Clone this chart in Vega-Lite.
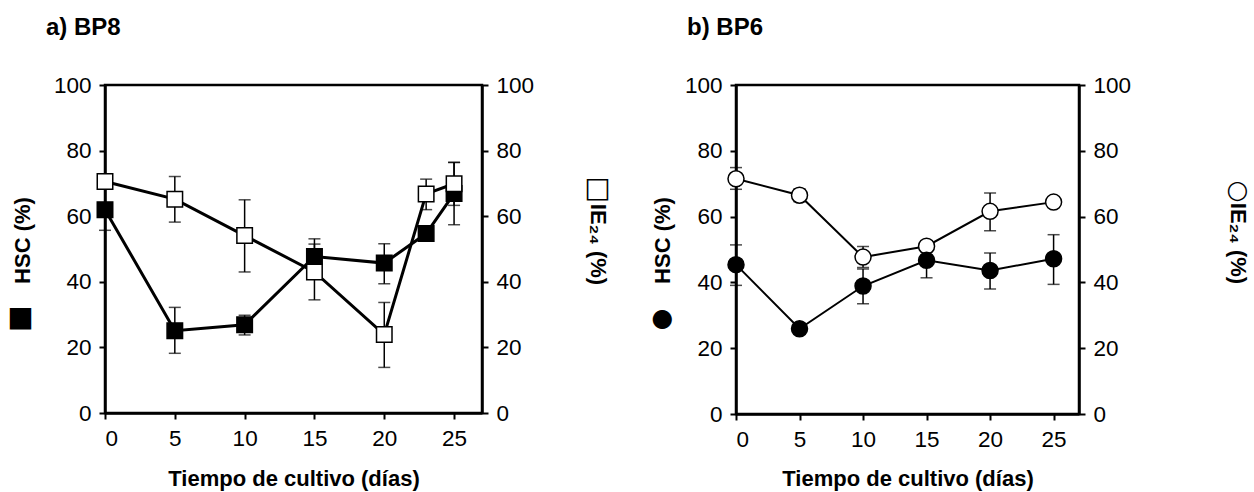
{
  "$schema": "https://vega.github.io/schema/vega-lite/v6.json",
  "padding": {"left": 5, "top": 14, "right": 2, "bottom": 2},
  "spacing": 37,
  "config": {
    "font": "Liberation Sans",
    "view": {"stroke": "black", "strokeWidth": 2.5},
    "axis": {
      "grid": false,
      "domainColor": "black",
      "domainWidth": 2.5,
      "tickColor": "black",
      "tickWidth": 2,
      "tickSize": 6,
      "labelFont": "Liberation Sans",
      "labelFontSize": 22.5,
      "labelColor": "black",
      "labelPadding": 8,
      "titleFont": "Liberation Sans",
      "titleFontSize": 22,
      "titleFontWeight": "bold",
      "titleColor": "black"
    },
    "title": {"font": "Liberation Sans", "fontSize": 24, "fontWeight": "bold", "color": "black"}
  },
  "datasets": {
    "d": [
      {"panel": "a", "series": "HSC", "day": 0, "value": 62.0, "lo": 55.7, "hi": 68.3},
      {"panel": "a", "series": "HSC", "day": 5, "value": 25.1, "lo": 18.2, "hi": 32.2},
      {"panel": "a", "series": "HSC", "day": 10, "value": 26.9, "lo": 23.8, "hi": 29.8},
      {"panel": "a", "series": "HSC", "day": 15, "value": 47.7, "lo": 42.3, "hi": 53.1},
      {"panel": "a", "series": "HSC", "day": 20, "value": 45.7, "lo": 39.4, "hi": 51.6},
      {"panel": "a", "series": "HSC", "day": 23, "value": 54.7, "lo": 53.0, "hi": 56.4},
      {"panel": "a", "series": "HSC", "day": 25, "value": 66.9, "lo": 57.4, "hi": 76.4},
      {"panel": "a", "series": "IE", "day": 0, "value": 70.6, "lo": 68.4, "hi": 72.8},
      {"panel": "a", "series": "IE", "day": 5, "value": 65.2, "lo": 58.2, "hi": 72.1},
      {"panel": "a", "series": "IE", "day": 10, "value": 54.1, "lo": 43.0, "hi": 65.0},
      {"panel": "a", "series": "IE", "day": 15, "value": 43.0, "lo": 34.5, "hi": 51.5},
      {"panel": "a", "series": "IE", "day": 20, "value": 23.9, "lo": 13.9, "hi": 33.7},
      {"panel": "a", "series": "IE", "day": 23, "value": 66.8, "lo": 62.0, "hi": 71.3},
      {"panel": "a", "series": "IE", "day": 25, "value": 69.9, "lo": 63.3, "hi": 76.4},
      {"panel": "b", "series": "IE", "day": 0, "value": 71.5, "lo": 68.3, "hi": 74.9},
      {"panel": "b", "series": "IE", "day": 5, "value": 66.5, "lo": 64.5, "hi": 68.5},
      {"panel": "b", "series": "IE", "day": 10, "value": 47.7, "lo": 44.5, "hi": 50.9},
      {"panel": "b", "series": "IE", "day": 15, "value": 51.0, "lo": 49.5, "hi": 52.5},
      {"panel": "b", "series": "IE", "day": 20, "value": 61.6, "lo": 55.7, "hi": 67.2},
      {"panel": "b", "series": "IE", "day": 25, "value": 64.4, "lo": 63.5, "hi": 65.3},
      {"panel": "b", "series": "HSC", "day": 0, "value": 45.4, "lo": 39.1, "hi": 51.4},
      {"panel": "b", "series": "HSC", "day": 5, "value": 25.9, "lo": 24.5, "hi": 27.3},
      {"panel": "b", "series": "HSC", "day": 10, "value": 38.9, "lo": 33.5, "hi": 44.1},
      {"panel": "b", "series": "HSC", "day": 15, "value": 46.7, "lo": 41.4, "hi": 52.0},
      {"panel": "b", "series": "HSC", "day": 20, "value": 43.6, "lo": 38.0, "hi": 48.9},
      {"panel": "b", "series": "HSC", "day": 25, "value": 47.2, "lo": 39.4, "hi": 54.5}
    ]
  },
  "hconcat": [
    {
      "width": 377,
      "height": 328,
      "title": {"text": "a) BP8", "anchor": "start", "frame": "group", "dx": -59, "offset": 34},
      "data": {"name": "d"},
      "transform": [{"filter": "datum.panel === 'a'"}],
      "encoding": {
        "x": {"field": "day", "type": "quantitative", "scale": {"domain": [0, 27], "nice": false},
              "axis": {"values": [0, 5, 10, 15, 20, 25], "title": "Tiempo de cultivo (días)", "titlePadding": 19}}
      },
      "layer": [
        {"mark": {"type": "rule", "color": "black", "strokeWidth": 1.5},
         "encoding": {"y": {"field": "lo", "type": "quantitative", "scale": {"domain": [0, 100], "nice": false},
                            "axis": {"orient": "left", "labels": false, "ticks": false, "domain": false, "title": "■", "titleFont": "DejaVu Sans", "titleFontWeight": "normal", "titleFontSize": 28, "titleAngle": 0, "titleAlign": "center", "titleBaseline": "middle", "titleX": -85, "titleY": 232}},
                      "y2": {"field": "hi"}}},
        {"mark": {"type": "tick", "orient": "horizontal", "color": "black", "size": 12, "thickness": 1.5},
         "encoding": {"y": {"field": "lo", "type": "quantitative",
                            "axis": {"orient": "right", "labels": false, "ticks": false, "domain": false, "title": "□", "titleFont": "DejaVu Sans", "titleFontWeight": "normal", "titleFontSize": 28, "titleAngle": 0, "titleAlign": "center", "titleBaseline": "middle", "titleX": 115, "titleY": 103}}}},
        {"mark": {"type": "tick", "orient": "horizontal", "color": "black", "size": 12, "thickness": 1.5},
         "encoding": {"y": {"field": "hi", "type": "quantitative", "axis": null}}},
        {"mark": {"type": "line", "color": "black", "strokeWidth": 3},
         "encoding": {"y": {"field": "value", "type": "quantitative",
                            "axis": {"orient": "right", "values": [0, 20, 40, 60, 80, 100], "title": "IE₂₄ (%)", "titleBaseline": "middle", "titleX": 115, "titleY": 159}},
                      "detail": {"field": "series"}}},
        {"mark": {"type": "point", "shape": "square", "size": 240, "stroke": "black", "strokeWidth": 1.5, "opacity": 1, "filled": true},
         "encoding": {"y": {"field": "value", "type": "quantitative",
                            "axis": {"orient": "left", "values": [0, 20, 40, 60, 80, 100], "title": "HSC (%)", "titleBaseline": "middle", "titleX": -83, "titleY": 155}},
                      "fill": {"field": "series", "type": "nominal", "scale": {"domain": ["HSC", "IE"], "range": ["black", "white"]}, "legend": null}}}
      ],
      "resolve": {"axis": {"y": "independent"}}
    },
    {
      "width": 343,
      "height": 329,
      "title": {"text": "b) BP6", "anchor": "start", "frame": "group", "dx": -49, "offset": 34},
      "data": {"name": "d"},
      "transform": [{"filter": "datum.panel === 'b'"}],
      "encoding": {
        "x": {"field": "day", "type": "quantitative", "scale": {"domain": [0, 27], "nice": false},
              "axis": {"values": [0, 5, 10, 15, 20, 25], "title": "Tiempo de cultivo (días)", "titlePadding": 18}}
      },
      "layer": [
        {"mark": {"type": "rule", "color": "black", "strokeWidth": 1.5},
         "encoding": {"y": {"field": "lo", "type": "quantitative", "scale": {"domain": [0, 100], "nice": false},
                            "axis": {"orient": "left", "labels": false, "ticks": false, "domain": false, "title": "●", "titleFont": "DejaVu Sans", "titleFontWeight": "normal", "titleFontSize": 25, "titleAngle": 0, "titleAlign": "center", "titleBaseline": "middle", "titleX": -74, "titleY": 232}},
                      "y2": {"field": "hi"}}},
        {"mark": {"type": "tick", "orient": "horizontal", "color": "black", "size": 12, "thickness": 1.5},
         "encoding": {"y": {"field": "lo", "type": "quantitative",
                            "axis": {"orient": "right", "labels": false, "ticks": false, "domain": false, "title": "○", "titleFont": "DejaVu Sans", "titleFontWeight": "normal", "titleFontSize": 25, "titleAngle": 0, "titleAlign": "center", "titleBaseline": "middle", "titleX": 158, "titleY": 104}}}},
        {"mark": {"type": "tick", "orient": "horizontal", "color": "black", "size": 12, "thickness": 1.5},
         "encoding": {"y": {"field": "hi", "type": "quantitative", "axis": null}}},
        {"mark": {"type": "line", "color": "black", "strokeWidth": 2},
         "encoding": {"y": {"field": "value", "type": "quantitative",
                            "axis": {"orient": "right", "values": [0, 20, 40, 60, 80, 100], "title": "IE₂₄ (%)", "titleBaseline": "middle", "titleX": 158, "titleY": 158}},
                      "detail": {"field": "series"}}},
        {"mark": {"type": "point", "shape": "circle", "size": 256, "stroke": "black", "strokeWidth": 1.5, "opacity": 1, "filled": true},
         "encoding": {"y": {"field": "value", "type": "quantitative",
                            "axis": {"orient": "left", "values": [0, 20, 40, 60, 80, 100], "title": "HSC (%)", "titleBaseline": "middle", "titleX": -74, "titleY": 155}},
                      "fill": {"field": "series", "type": "nominal", "scale": {"domain": ["HSC", "IE"], "range": ["black", "white"]}, "legend": null}}}
      ],
      "resolve": {"axis": {"y": "independent"}}
    }
  ]
}
